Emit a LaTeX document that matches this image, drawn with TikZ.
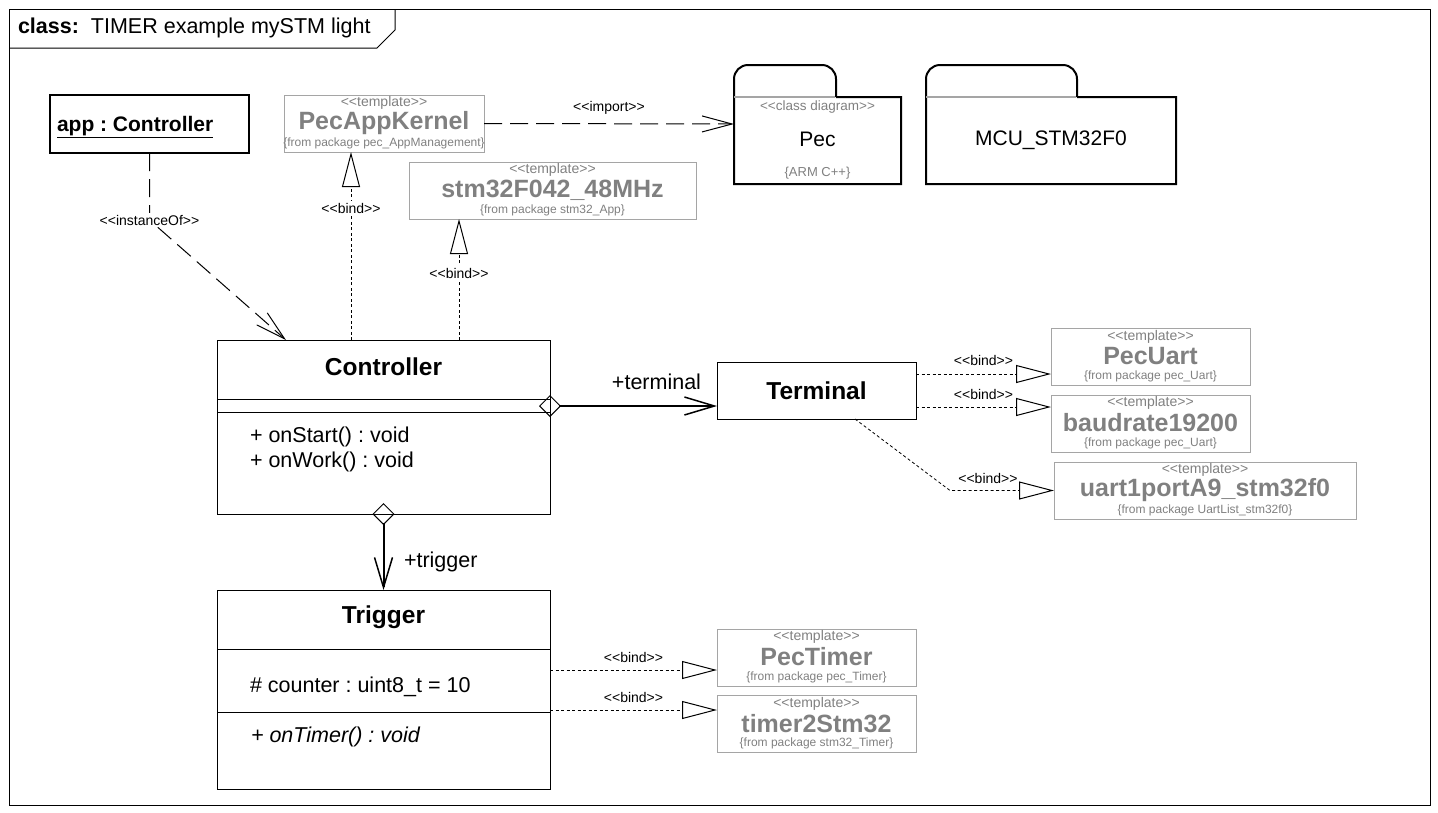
\documentclass[tikz,border=0pt]{standalone}
\usepackage{fontspec}
\setmainfont{Liberation Sans}
\usetikzlibrary{arrows.meta}
\definecolor{tgray}{RGB}{128,128,128}
\definecolor{tline}{RGB}{165,165,165}
\newcommand{\stereo}[1]{<{}<#1>{}>}
\newcommand{\fs}[1]{\fontsize{#1}{#1}\selectfont}
\frenchspacing

\begin{document}
\begin{tikzpicture}[x=1pt, y=-1pt,
    every node/.style={inner sep=0pt, outer sep=0pt},
    cls/.style={draw, line width=1pt},
    tmpl/.style={draw=tline, line width=1pt, minimum height=57pt},
    lbl/.style={font=\fs{14}},
    lblw/.style={font=\fs{14}, fill=white, inner sep=2pt},
    bind/.style={line width=0.8pt, dash pattern=on 3pt off 2.5pt,
      -{Triangle[open, length=35pt, width=18pt, line width=1pt]}},
    dep/.style={line width=1pt, dash pattern=on 18pt off 8pt,
      -{Straight Barb[length=30pt, width=16pt]}},
    assoc/.style={line width=2pt,
      {Diamond[open, length=22pt, width=22pt, line width=1pt]}-{Straight Barb[length=30pt, width=18pt, line width=1.5pt]}}]
    \useasboundingbox (0,0) rectangle (1438,812);
    \draw[line width=1pt] (9,9) rectangle (1430,805);
    \draw[line width=1pt] (395,9) -- (395,30) -- (377,48) -- (9,48);
    \node[anchor=west, font=\fs{21.5}] (title) at (18,28) {\textbf{class:}\hspace{12pt}TIMER example mySTM light};

    \node[draw, line width=2pt, minimum width=199pt, minimum height=58pt] (app) at (149.5,124) {};
    \node[anchor=west, font=\bfseries\fs{21}] (appname) at ([xshift=7pt,yshift=-3pt]app.west) {\underline{app : Controller}};

    \node[cls, minimum width=333pt, minimum height=174pt] (ctrl) at (383.5,427) {};
    \node[font=\bfseries\fs{24.5}] (ctrlname) at ([yshift=-27pt]ctrl.north) {Controller};
    \foreach \d in {59,72}
      \draw[line width=1pt] ([yshift=-\d pt]ctrl.north west) -- ([yshift=-\d pt]ctrl.north east);
    \node[anchor=west, font=\fs{21.5}] (onstart) at ([xshift=33pt,yshift=-97pt]ctrl.north west) {+ onStart() : void};
    \node[anchor=west, font=\fs{21.5}] (onwork) at ([xshift=33pt,yshift=-122pt]ctrl.north west) {+ onWork() : void};

    \node[cls, minimum width=199pt, minimum height=57pt, font=\bfseries\fs{24.5}] (term) at (816.5,390.5) {Terminal};

    \node[cls, minimum width=333pt, minimum height=199pt] (trig) at (383.5,689.5) {};
    \node[font=\bfseries\fs{24.5}] (trigname) at ([yshift=-27pt]trig.north) {Trigger};
    \foreach \d in {59,122}
      \draw[line width=1pt] ([yshift=-\d pt]trig.north west) -- ([yshift=-\d pt]trig.north east);
    \node[anchor=west, font=\fs{21.5}] (counter) at ([xshift=33pt,yshift=-97pt]trig.north west) {\# counter : uint8\_t = 10};
    \node[anchor=west, font=\itshape\fs{21.5}] (ontimer) at ([xshift=34pt,yshift=-147pt]trig.north west) {+ onTimer() : void};

    \foreach \n/\x/\y/\w/\t/\p in {
      pak/384/123.5/200/PecAppKernel/pec\_AppManagement,
      stm/552.5/190.5/287/stm32F042\_48MHz/stm32\_App,
      puart/1150.5/357/199/PecUart/pec\_Uart,
      baud/1150.5/423.5/199/baudrate19200/pec\_Uart,
      uart/1205/490.5/302/uart1portA9\_stm32f0/UartList\_stm32f0,
      ptim/816.5/657.5/199/PecTimer/pec\_Timer,
      tim2/816.5/724/199/timer2Stm32/stm32\_Timer}
    {
      \node[tmpl, minimum width=\w pt] (\n) at (\x,\y) {};
      \node[font=\fs{14}, text=tgray] (\n-st) at ([yshift=-8pt]\n.north) {\stereo{template}};
      \node[font=\bfseries\fs{25}, text=tgray] (\n-nm) at ([yshift=-28pt]\n.north) {\t};
      \node[font=\fs{12}, text=tgray] (\n-pk) at ([yshift=-48pt]\n.north) {\{from package \p\}};
    }

    \node[minimum width=167pt, minimum height=87pt] (pec) at (817.5,140.5) {};
    \draw[line width=2pt] ([xshift=102pt]pec.north west) -- (pec.north east) -- (pec.south east) -- (pec.south west) -- (pec.north west)
      [rounded corners=14pt] -- ++(0,-32) -- ++(102,0) -- ++(0,32);
    \draw[line width=2pt, tline] (pec.north west) -- ++(101,0);
    \node[font=\fs{13.5}, text=tgray] (pec-st) at ([yshift=-10pt]pec.north) {\stereo{class diagram}};
    \node[font=\fs{21}] (pec-nm) at ([yshift=1.5pt]pec.center) {Pec};
    \node[font=\fs{13}, text=tgray] (pec-lang) at ([yshift=11pt]pec.south) {\{ARM C++\}};

    \node[minimum width=250pt, minimum height=87pt, font=\fs{21}] (mcu) at (1051,140.5) {MCU\_STM32F0};
    \draw[line width=2pt] ([xshift=151pt]mcu.north west) -- (mcu.north east) -- (mcu.south east) -- (mcu.south west) -- (mcu.north west)
      [rounded corners=14pt] -- ++(0,-32) -- ++(151,0) -- ++(0,32);
    \draw[line width=2pt, tline] (mcu.north west) -- ++(150,0);

    \draw[dep] (pak.east) -- node[lbl, above=9.5pt] (imp) {\stereo{import}} ([yshift=16.5pt]pec.west);
    \draw[dep] (app.south) -- ++(0,67) node[lblw] (inst) {\stereo{instanceOf}} -- ([xshift=-97.5pt]ctrl.north);

    \draw[bind] ([xshift=-32.5pt]ctrl.north) -- node[lblw, pos=0.7] (b1) {\stereo{bind}} ([xshift=-33pt]pak.south);
    \draw[bind] ([xshift=75.5pt]ctrl.north) -- node[lblw, pos=0.55] (b2) {\stereo{bind}} ([xshift=-93.5pt]stm.south);
    \draw[bind] ([yshift=16.5pt]term.east) -- node[lbl, above=8pt] (b3) {\stereo{bind}} ([yshift=-17pt]puart.west);
    \draw[bind] ([yshift=-16.5pt]term.east) -- node[lbl, above=7.5pt] (b4) {\stereo{bind}} ([yshift=16.5pt]baud.west);
    \draw[bind] ([xshift=38.5pt]term.south) -- ([xshift=-104pt]uart.west) -- node[lbl, above=6.5pt, pos=0.365] (b5) {\stereo{bind}} (uart.west);
    \draw[bind] ([yshift=19.5pt]trig.east) -- node[lbl, above=7.5pt] (b6) {\stereo{bind}} ([yshift=-12.5pt]ptim.west);
    \draw[bind] ([yshift=-20.5pt]trig.east) -- node[lbl, above=7.5pt] (b7) {\stereo{bind}} ([yshift=14pt]tim2.west);

    \draw[assoc] ([xshift=-11pt,yshift=21pt]ctrl.east) -- node[font=\fs{21.5}, above=16.5pt, pos=0.66] (rterm) {+terminal} ([yshift=-15.5pt]term.west);
    \draw[assoc] ([yshift=11pt]ctrl.south) -- node[font=\fs{21.5}, right=20.5pt, pos=0.68] (rtrig) {+trigger} (trig.north);
\end{tikzpicture}
\end{document}
